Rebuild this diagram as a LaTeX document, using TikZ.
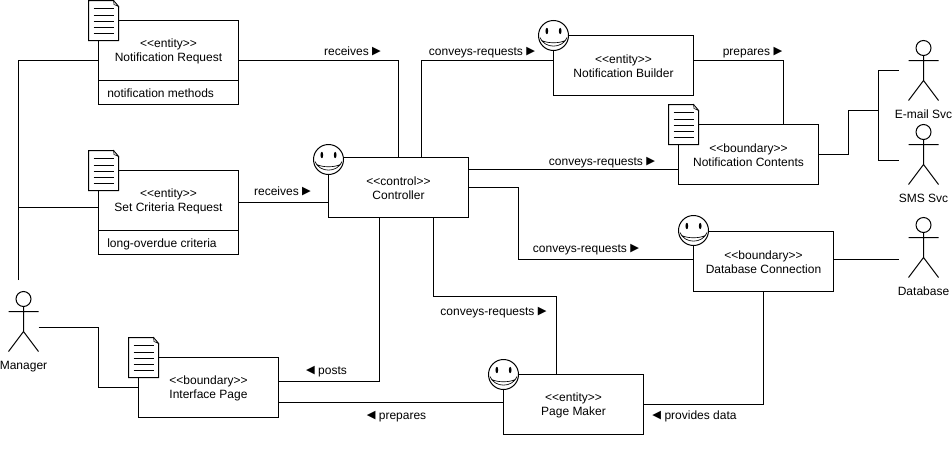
\documentclass[tikz,border=0pt]{standalone}
\usepackage{fontspec}
\setmainfont{Liberation Sans}
\newfontfamily\symfont{DejaVu Sans}
\newcommand{\rarr}{\raisebox{.6pt}{\symfont\fontsize{8.5}{10}\selectfont ▶}}
\newcommand{\larr}{\raisebox{.6pt}{\symfont\fontsize{8.5}{10}\selectfont ◀}}
\newcommand{\stereo}[1]{\rule{0pt}{8.1pt}<{}<#1>{}>}
\tikzset{
  every node/.style={font=\fontsize{9}{10.5}\selectfont},
  box/.style={draw=black,fill=white,line width=.75pt,minimum width=105pt,minimum height=45pt,inner sep=0pt,outer sep=0pt,align=center},
  compart/.style={draw=black,fill=white,line width=.75pt,minimum width=105pt,minimum height=18pt,inner sep=0pt,outer sep=0pt},
  compartlabel/.style={anchor=west,inner sep=0pt,text height=7pt,text depth=2pt,yshift=-.75pt},
  wire/.style={draw=black,line width=.75pt,line join=miter},
  lbl/.style={inner sep=0pt,text height=7pt,text depth=2pt,yshift=-.75pt},
  figline/.style={draw=black,line width=.75pt},
  actorbox/.style={minimum width=22.5pt,minimum height=45pt,inner sep=0pt,outer sep=0pt},
}
\newcommand{\actorfig}[3]{%
  \begin{scope}[shift={(#2,#3)}]
    \node[actorbox] (#1) at (15,30) {};
    \draw[figline] (15,7.5) circle [radius=5.625pt];
    \draw[figline] (15,15)--(15,40) (0,20)--(30,20) (0,60)--(15,40)--(30,60);
  \end{scope}}
\newcommand{\docfig}[2]{%
  \begin{scope}[shift={(#1,#2)}]
    \draw[figline,fill=white] (0,0)--(25,0)--(30,6)--(30,40)--(0,40)--cycle;
    \draw[draw=black,line width=.4pt,fill=gray!25] (25,0)--(25.5,4)--(30,6)--cycle;
    \draw[figline] (5,8)--(25,8) (5,15)--(25,15) (5,21)--(25,21) (5,27)--(25,27) (5,33)--(25,33);
  \end{scope}}
\newcommand{\smileyfig}[2]{%
  \begin{scope}[shift={(#1,#2)}]
    \draw[figline,fill=white] (0,0) circle [radius=11.25pt];
    \fill[black] (-6.7,-4.5) ellipse [x radius=1pt,y radius=2.4pt];
    \fill[black] (6.7,-4.5) ellipse [x radius=1pt,y radius=2.4pt];
    \draw[draw=black,line width=.5pt] (-13.5,2) .. controls (-9,13.5) and (9,13.5) .. (13.5,2) (-13.5,2) -- (-11.8,5) .. controls (-6,8) and (6,8) .. (11.8,5) -- (13.5,2);
  \end{scope}}
\begin{document}
\begin{tikzpicture}[x=.75pt,y=-.75pt]
\useasboundingbox (0,0) rectangle (952,475);

% boxes
\node[box] (nr) at (168.5,50.5) {\stereo{entity}\\Notification Request};
\node[compart] (nrm) at (168.5,92.5) {};
\node[compartlabel] (nrmt) at (107,93) {notification methods};
\node[box] (sc) at (168.5,200.5) {\stereo{entity}\\Set Criteria Request};
\node[compart] (scm) at (168.5,242.5) {};
\node[compartlabel] (scmt) at (107,243) {long-overdue criteria};
\node[box] (ctl) at (398.5,187.5) {\stereo{control}\\Controller};
\node[box] (nb) at (623.5,65.5) {\stereo{entity}\\Notification Builder};
\node[box] (nc) at (748.5,154.5) {\stereo{boundary}\\Notification Contents};
\node[box] (db) at (763.5,261.5) {\stereo{boundary}\\Database Connection};
\node[box] (ip) at (208.5,387.5) {\stereo{boundary}\\Interface Page};
\node[box] (pm) at (573.5,404.5) {\stereo{entity}\\Page Maker};

% actors
\actorfig{mgr}{8.5}{291.5}
\actorfig{email}{908.5}{40.5}
\actorfig{sms}{908.5}{124.5}
\actorfig{dbs}{908.5}{217.5}
\node[lbl] (mgrt) at (23.5,365) {Manager};
\node[lbl] (emailt) at (923.5,114) {E-mail Svc};
\node[lbl] (smst) at (923.5,198) {SMS Svc};
\node[lbl] (dbst) at (923.5,291) {Database};

% free ends and junctions
\coordinate (mgrtop) at (18.5,280);
\coordinate (busjoin) at (878.5,110.5);

% connectors
\draw[wire] (mgrtop) -- (18.5,60.5) -- (nr.west |- 0,60.5);
\draw[wire] (18.5,207) -- (sc.west |- 0,207);
\draw[wire] (mgr.east |- 0,327.5) -- (98.5,327.5) -- (98.5,387.5) -- (ip.west |- 0,387.5);
\draw[wire] (nr.east |- 0,60.5) -- (398.5,60.5) -- (ctl.north);
\draw[wire] (sc.east |- 0,202) -- (ctl.west |- 0,202);
\draw[wire] (ctl.north -| 421.5,0) -- (421.5,60.5) -- (nb.west |- 0,60.5);
\draw[wire] (ctl.east |- 0,169.5) -- (nc.west |- 0,169.5);
\draw[wire] (ctl.east |- 0,187.5) -- (518.5,187.5) -- (518.5,259.5) -- (db.west |- 0,259.5);
\draw[wire] (ctl.south -| 379,0) -- (379,381) -- (ip.east |- 0,381);
\draw[wire] (ctl.south -| 433.5,0) -- (433.5,296) -- (556,296) -- (pm.north -| 556,0);
\draw[wire] (ip.east |- 0,402.5) -- (pm.west |- 0,402.5);
\draw[wire] (pm.east |- 0,404.5) -- (763.5,404.5) -- (db.south);
\draw[wire] (nb.east |- 0,60.5) -- (783.5,60.5) -- (nc.north -| 783.5,0);
\draw[wire] (nc.east) -- (848.5,154.5) -- (848.5,110.5) -- (busjoin);
\draw[wire] (email.west |- 0,70.5) ++(-10,0) -- (878.5,70.5) -- (878.5,160.5) -- ([xshift=-7.5pt]sms.west |- 0,160.5);
\draw[wire] (db.east |- 0,259.5) -- ([xshift=-7.5pt]dbs.west |- 0,259.5);

% connector labels
\node[lbl] (l1) at (352.5,51) {receives \rarr};
\node[lbl] (l2) at (282.5,191) {receives \rarr};
\node[lbl] (l3) at (482,51) {conveys-requests \rarr};
\node[lbl] (l4) at (602,161) {conveys-requests \rarr};
\node[lbl] (l5) at (752.5,51) {prepares \rarr};
\node[lbl] (l6) at (586,248) {conveys-requests \rarr};
\node[lbl] (l7) at (493.5,311) {conveys-requests \rarr};
\node[lbl] (l8) at (326.5,370) {\larr\ posts};
\node[lbl] (l9) at (396.5,415) {\larr\ prepares};
\node[lbl] (l10) at (694.5,415) {\larr\ provides data};

% icons on the corners
\docfig{88.5}{0.5}
\docfig{88.5}{150.5}
\docfig{668.5}{104.5}
\docfig{128.5}{337.5}
\smileyfig{328.5}{159.5}
\smileyfig{553.5}{35.5}
\smileyfig{693.5}{230.5}
\smileyfig{503.5}{374.5}
\end{tikzpicture}
\end{document}
